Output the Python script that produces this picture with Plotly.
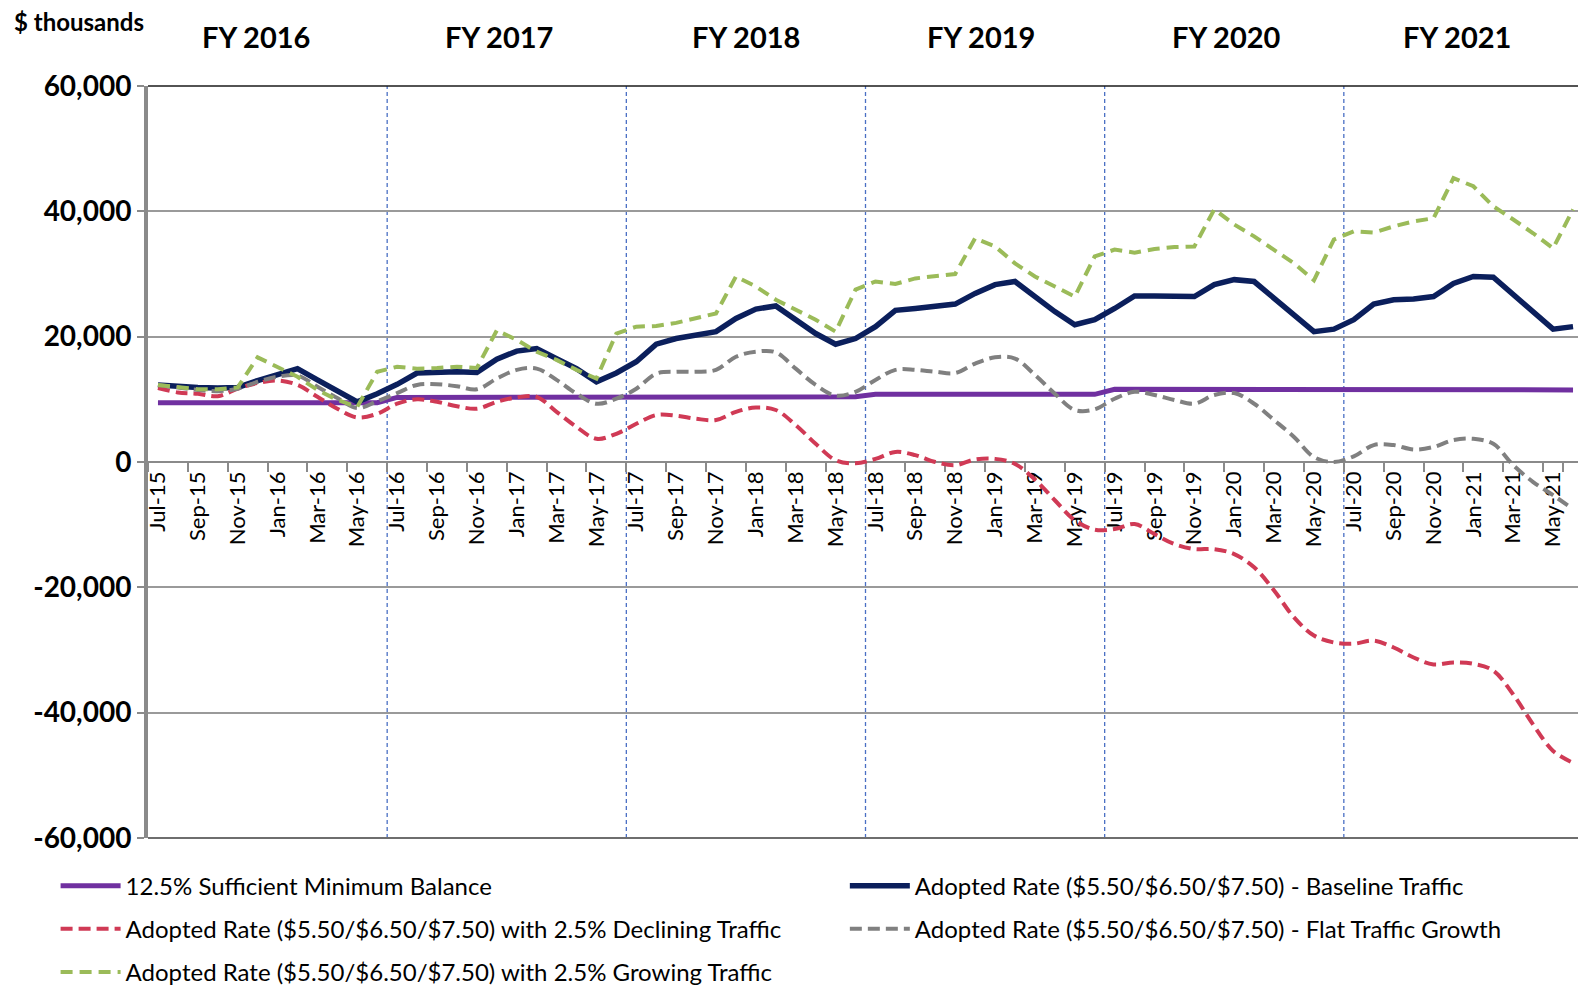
import plotly.graph_objects as go

# Monthly categories Jul-15 .. Jun-21 (one row per fiscal year)
MONTHS = [
    "Jul-15", "Aug-15", "Sep-15", "Oct-15", "Nov-15", "Dec-15", "Jan-16", "Feb-16", "Mar-16", "Apr-16", "May-16", "Jun-16",
    "Jul-16", "Aug-16", "Sep-16", "Oct-16", "Nov-16", "Dec-16", "Jan-17", "Feb-17", "Mar-17", "Apr-17", "May-17", "Jun-17",
    "Jul-17", "Aug-17", "Sep-17", "Oct-17", "Nov-17", "Dec-17", "Jan-18", "Feb-18", "Mar-18", "Apr-18", "May-18", "Jun-18",
    "Jul-18", "Aug-18", "Sep-18", "Oct-18", "Nov-18", "Dec-18", "Jan-19", "Feb-19", "Mar-19", "Apr-19", "May-19", "Jun-19",
    "Jul-19", "Aug-19", "Sep-19", "Oct-19", "Nov-19", "Dec-19", "Jan-20", "Feb-20", "Mar-20", "Apr-20", "May-20", "Jun-20",
    "Jul-20", "Aug-20", "Sep-20", "Oct-20", "Nov-20", "Dec-20", "Jan-21", "Feb-21", "Mar-21", "Apr-21", "May-21", "Jun-21",
]
TICK_LABELS = [
    "Jul-15", "Sep-15", "Nov-15", "Jan-16", "Mar-16", "May-16",
    "Jul-16", "Sep-16", "Nov-16", "Jan-17", "Mar-17", "May-17",
    "Jul-17", "Sep-17", "Nov-17", "Jan-18", "Mar-18", "May-18",
    "Jul-18", "Sep-18", "Nov-18", "Jan-19", "Mar-19", "May-19",
    "Jul-19", "Sep-19", "Nov-19", "Jan-20", "Mar-20", "May-20",
    "Jul-20", "Sep-20", "Nov-20", "Jan-21", "Mar-21", "May-21",
]
FISCAL_YEARS = ["FY 2016", "FY 2017", "FY 2018", "FY 2019", "FY 2020", "FY 2021"]
Y_TICKS = [-60000, -40000, -20000, 0, 20000, 40000, 60000]
Y_TICK_TEXT = ["-60,000", "-40,000", "-20,000", "0", "20,000", "40,000", "60,000"]

# $ thousands
MIN_BALANCE = [
    9450, 9450, 9450, 9450, 9450, 9450, 9450, 9450, 9450, 9450, 9450, 9450,
    10300, 10300, 10300, 10300, 10300, 10300, 10300, 10300, 10300, 10300, 10300, 10300,
    10400, 10400, 10400, 10400, 10400, 10400, 10400, 10400, 10400, 10400, 10400, 10400,
    10800, 10800, 10800, 10800, 10800, 10800, 10800, 10800, 10800, 10800, 10800, 10800,
    11600, 11600, 11600, 11600, 11600, 11600, 11600, 11600, 11600, 11600, 11600, 11600,
    11500, 11500, 11500, 11500, 11500, 11500, 11500, 11500, 11500, 11500, 11500, 11500,
]
BASELINE = [
    12300, 12000, 11900, 11800, 11900, 13000, 14000, 14900, 13100, 11400, 9600, 10900,
    12400, 14200, 14400, 14400, 14300, 16400, 17700, 18100, 16500, 14900, 12800, 14200,
    16000, 18800, 19700, 20300, 20800, 22900, 24400, 24900, 22700, 20500, 18800, 19700,
    21600, 24200, 24500, 24800, 25200, 26900, 28300, 28800, 26400, 24000, 21900, 22700,
    24500, 26500, 26500, 26500, 26400, 28300, 29100, 28800, 26100, 23500, 20800, 21200,
    22700, 25200, 25900, 26000, 26400, 28500, 29600, 29500, 26800, 24000, 21200, 21600,
]
DECLINING = [
    11800, 11100, 10900, 10500, 11700, 12600, 13000, 12300, 10400, 8500, 7100, 7700,
    9300, 10000, 9600, 8900, 8500, 9600, 10300, 10400, 8000, 5600, 3700, 4500,
    6100, 7500, 7400, 6900, 6700, 8000, 8700, 8300, 5900, 2900, 300, -200,
    500, 1600, 1100, 0, -500, 400, 500, -300, -2800, -6100, -9300, -10800,
    -10700, -9900, -11500, -13100, -13900, -13900, -14700, -16800, -20500, -24800, -27700, -28800,
    -29000, -28500, -29600, -31200, -32300, -32000, -32200, -33300, -37100, -41900, -46100, -48000,
]
FLAT = [
    12300, 11900, 11500, 11300, 11700, 12800, 13600, 13800, 12000, 10200, 8600, 9700,
    11000, 12300, 12400, 12100, 11600, 13300, 14700, 14900, 13100, 10900, 9300, 10100,
    11700, 14100, 14400, 14400, 14700, 16800, 17600, 17500, 14900, 12300, 10600, 11200,
    13100, 14700, 14700, 14400, 14200, 15700, 16700, 16500, 13900, 10900, 8300, 8400,
    10100, 11200, 10700, 9900, 9300, 10700, 11000, 9300, 6700, 4000, 800, 0,
    900, 2700, 2700, 2000, 2400, 3500, 3700, 2900, -500, -3200, -5300, -7500,
]
GROWING = [
    12300, 11900, 11600, 11600, 11900, 16700, 15200, 13600, 11500, 9900, 8800, 14400,
    15200, 14900, 15000, 15200, 15000, 21000, 19500, 17600, 16300, 14700, 13300, 20500,
    21600, 21700, 22200, 22900, 23700, 29600, 28000, 25900, 24300, 22700, 20800, 27500,
    28800, 28400, 29300, 29700, 30000, 35700, 34400, 31700, 29600, 28000, 26400, 32800,
    33900, 33400, 34000, 34300, 34400, 40300, 37900, 36000, 33900, 31700, 29000, 35500,
    36800, 36600, 37600, 38400, 38900, 45300, 44000, 40800, 38700, 36500, 34100, 40300,
]

FONT = "Lato, 'Open Sans', sans-serif"
GRID = "#9a9a9a"

fig = go.Figure()

series = [
    ("12.5% Sufficient Minimum Balance", MIN_BALANCE, "#7030A0", None, "linear", 5, "legend"),
    ("Adopted Rate ($5.50/$6.50/$7.50) - Baseline Traffic", BASELINE, "#0B1F5C", None, "linear", 5.5, "legend2"),
    ("Adopted Rate ($5.50/$6.50/$7.50) with 2.5% Declining Traffic", DECLINING, "#D03A55", "12px,6px", "spline", 4, "legend"),
    ("Adopted Rate ($5.50/$6.50/$7.50) - Flat Traffic Growth", FLAT, "#808080", "12px,6px", "spline", 4, "legend2"),
    ("Adopted Rate ($5.50/$6.50/$7.50) with 2.5% Growing Traffic", GROWING, "#9BBB59", "12px,7px", "linear", 4, "legend"),
]
for name, values, color, dash, shape, width, legend in series:
    fig.add_trace(
        go.Scatter(
            x=MONTHS,
            y=values,
            name=name,
            mode="lines",
            legend=legend,
            legendgroup=name,
            line=dict(color=color, width=width, dash=dash, shape=shape, smoothing=1.0),
        )
    )

# fiscal-year separators
for k in range(1, 6):
    fig.add_shape(
        type="line", xref="x", yref="y domain",
        x0=12 * k - 0.5, x1=12 * k - 0.5, y0=0, y1=1,
        line=dict(color="#4A6FC4", width=1.3, dash="4px,3px"), layer="below",
    )

# frame: top, right, bottom
fig.add_shape(type="line", xref="x domain", yref="y domain", x0=0, x1=1, y0=1, y1=1,
              line=dict(color="#1a1a1a", width=1.5))
fig.add_shape(type="line", xref="x domain", yref="y domain", x0=1, x1=1, y0=0, y1=1,
              line=dict(color="#1a1a1a", width=1.5))
fig.add_shape(type="line", xref="x domain", yref="y domain", x0=0, x1=1, y0=0, y1=0,
              line=dict(color="#6e6e6e", width=2))

fy_pos = [4.9, 17.1, 29.5, 41.3, 53.6, 65.2]
for label, xpos in zip(FISCAL_YEARS, fy_pos):
    fig.add_annotation(
        text=label, x=xpos, y=1.066, xref="x", yref="paper", showarrow=False,
        xanchor="center", yanchor="middle",
        font=dict(family=FONT, size=29, color="black", weight="bold"),
    )
fig.add_annotation(
    text="$ thousands", x=-0.095, y=1.086, xref="paper", yref="paper", showarrow=False,
    xanchor="left", yanchor="middle",
    font=dict(family=FONT, size=24, color="black", weight="bold"),
)

# page body keeps an 8px margin, so the figure is sized 8px smaller
fig.update_layout(
    width=1578,
    height=987,
    margin=dict(l=140, r=3, t=78, b=157, autoexpand=False),
    paper_bgcolor="white",
    plot_bgcolor="white",
    font=dict(family=FONT, color="black"),
    legend=dict(
        x=-0.0644, y=-0.034, xanchor="left", yanchor="top",
        font=dict(family=FONT, size=24, color="black"),
        tracegroupgap=9, itemwidth=60, bgcolor="rgba(0,0,0,0)",
    ),
    legend2=dict(
        x=0.4856, y=-0.034, xanchor="left", yanchor="top",
        font=dict(family=FONT, size=24, color="black"),
        tracegroupgap=9, itemwidth=60, bgcolor="rgba(0,0,0,0)",
    ),
)
fig.update_xaxes(
    type="category",
    range=[-0.5, 71.5],
    anchor="free",
    position=0.5,
    tickmode="array",
    tickvals=TICK_LABELS,
    ticktext=TICK_LABELS,
    tickson="boundaries",
    tickangle=-90,
    ticks="outside",
    ticklen=9,
    tickwidth=1.5,
    tickcolor="#8a8a8a",
    showline=True,
    linecolor="#8a8a8a",
    linewidth=1.5,
    showgrid=False,
    layer="below traces",
    tickfont=dict(family=FONT, size=22, color="black"),
)
fig.update_yaxes(
    range=[-60000, 60000],
    tickmode="array",
    tickvals=Y_TICKS,
    ticktext=Y_TICK_TEXT,
    showline=True,
    linecolor="#8a8a8a",
    linewidth=4,
    ticks="outside",
    ticklen=7,
    tickwidth=2,
    tickcolor="#8a8a8a",
    ticklabelstandoff=0,
    showgrid=True,
    gridcolor=GRID,
    gridwidth=1.5,
    zeroline=False,
    tickfont=dict(family=FONT, size=28, color="black", weight="bold"),
)

fig.write_html("out.html")
